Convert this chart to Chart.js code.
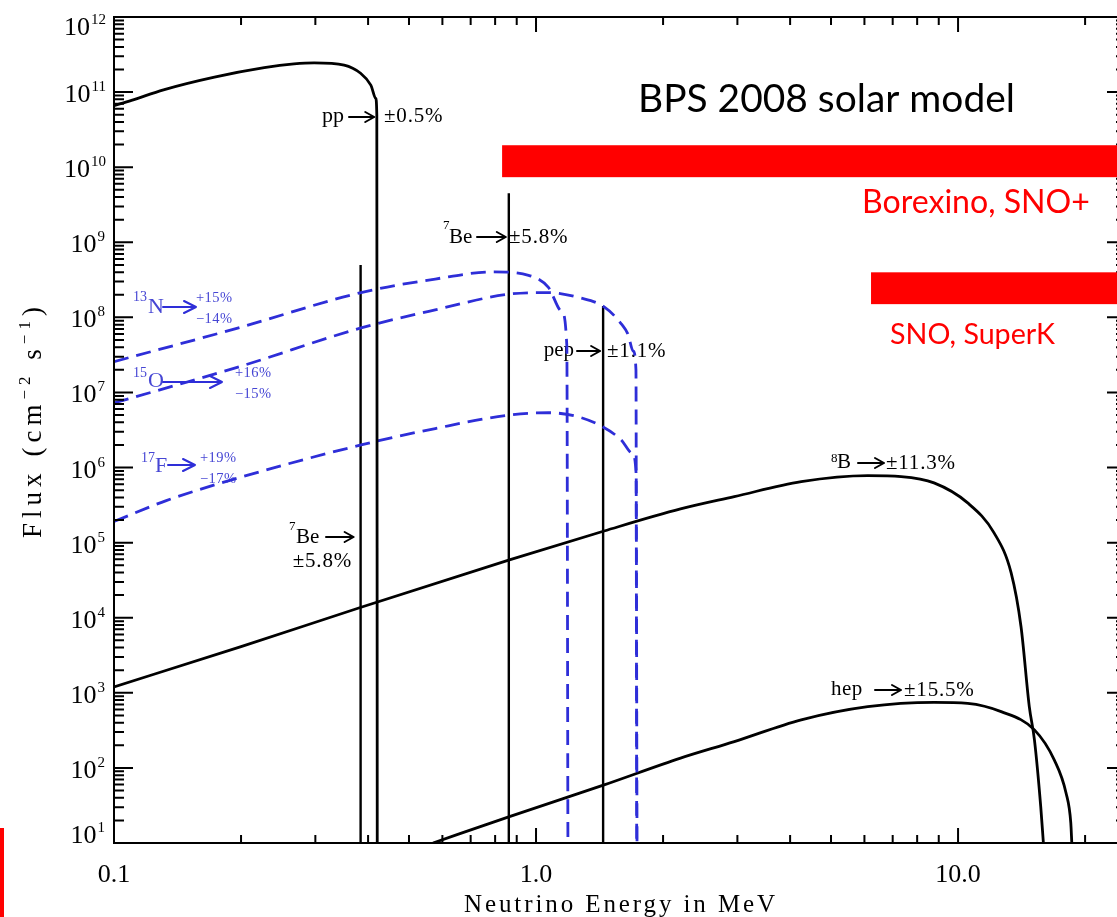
<!DOCTYPE html>
<html>
<head>
<meta charset="utf-8">
<title>Solar neutrino spectrum</title>
<script src="https://cdn.jsdelivr.net/npm/chart.js@4.4.0/dist/chart.umd.min.js"></script>
<style>
  html, body { margin: 0; padding: 0; background: #fff; overflow: hidden; }
  #wrap { width: 1117px; height: 917px; overflow: hidden; position: relative; }
  canvas { display: block; }
</style>
</head>
<body>
<div id="wrap"><canvas id="spectrum" width="1140" height="917"></canvas></div>
<script>
// ---- Spectra: neutrino energy (MeV) and flux (cm^-2 s^-1, per MeV for continua) ----
const ppEnergy = [0.1, 0.11, 0.131, 0.173, 0.227, 0.267, 0.298, 0.351, 0.384, 0.406, 0.417, 0.4195, 0.4205];
const ppFlux   = [6.61e10, 7.76e10, 1.07e11, 1.58e11, 2.11e11, 2.37e11, 2.45e11, 2.29e11, 1.78e11, 1.24e11, 8.26e10, 5.0e10, 10];

const n13Energy = [0.1, 0.2, 0.385, 0.577, 0.79, 0.96, 1.07, 1.15, 1.183, 1.19];
const n13Flux   = [2.57e7, 7.41e7, 2.14e8, 3.24e8, 4.03e8, 3.63e8, 2.51e8, 1.20e8, 4.17e7, 10];

const o15Energy = [0.1, 0.2, 0.385, 0.577, 0.865, 1.07, 1.27, 1.45, 1.6, 1.65, 1.70, 1.725, 1.732];
const o15Flux   = [7.24e6, 2.24e7, 7.24e7, 1.26e8, 2.04e8, 2.14e8, 1.82e8, 1.38e8, 7.94e7, 6.03e7, 3.55e7, 2.0e7, 10];

const f17Energy = [0.1, 0.133, 0.191, 0.385, 0.577, 0.865, 1.07, 1.25, 1.43, 1.59, 1.69, 1.726, 1.735];
const f17Flux   = [1.91e5, 3.63e5, 6.92e5, 2.0e6, 3.31e6, 5.01e6, 5.37e6, 4.79e6, 3.55e6, 2.34e6, 1.55e6, 8.51e5, 10];

const b8Energy = [0.1, 0.2, 0.385, 0.865, 1.45, 2.2, 2.95, 4.25, 6.11, 7.33, 8.77, 10.54, 12.17, 13.36, 14.1, 14.75, 15.17, 15.7, 15.93];
const b8Flux   = [1.20e3, 4.12e3, 1.38e4, 5.89e4, 1.43e5, 2.81e5, 4.10e5, 6.49e5, 7.80e5, 7.57e5, 6.24e5, 3.38e5, 1.35e5, 3.95e4, 7.59e3, 655, 236, 30.5, 10];

const hepEnergy = [0.57, 0.865, 1.45, 2.2, 2.95, 4.25, 6.11, 8.77, 10.54, 12.65, 15.17, 16.9, 18.03, 18.5, 18.6];
const hepFlux   = [10, 22.5, 59.4, 135, 224, 437, 655, 748, 724, 562, 321, 128, 46.0, 18.4, 10];

// Monoenergetic lines: 7Be (384 keV), 7Be (862 keV), pep
const lineEnergy = [0.384, 0.862, 1.442];
const lineFlux   = [5.0e8, 4.5e9, 1.42e8];

// Detector sensitivity bands: energy threshold and flux extent of each bar
const bandNames     = ['Borexino, SNO+', 'SNO, SuperK'];
const bandThreshold = [0.831, 6.22];
const bandFluxTop   = [1.96e10, 3.98e8];
const bandFluxBot   = [7.36e9, 1.50e8];

// Axes
const xMin = 0.1, xMax = 25;
const yMin = 10, yMax = 1e12;
const xTickValues = [0.1, 1, 10];
const xTickLabels = ['0.1', '1.0', '10.0'];
const yTickExponents = [1, 2, 3, 4, 5, 6, 7, 8, 9, 10, 11, 12];

const SERIF = "'Liberation Serif', 'DejaVu Serif', serif";
const SANS = "Lato, 'Open Sans', sans-serif";
const BLACK = '#000';
const BLUE = 'rgb(46,46,216)';
const BLUE_TEXT = 'rgb(70,70,212)';
const RED = 'rgb(255,0,0)';

const pts = (xs, ys) => xs.map((v, i) => ({ x: v, y: ys[i] }));

const datasets = [];
function curve(label, xs, ys, color, width, dash) {
  datasets.push({
    label, data: pts(xs, ys), borderColor: color, borderWidth: width,
    borderDash: dash || [], cubicInterpolationMode: 'monotone',
    pointRadius: 0, fill: false
  });
}
curve('pp', ppEnergy, ppFlux, BLACK, 2.8);
curve('13N', n13Energy, n13Flux, BLUE, 2.8, [15, 8]);
curve('15O', o15Energy, o15Flux, BLUE, 2.8, [15, 8]);
curve('17F', f17Energy, f17Flux, BLUE, 2.8, [15, 8]);
curve('8B', b8Energy, b8Flux, BLACK, 2.8);
curve('hep', hepEnergy, hepFlux, BLACK, 2.8);
lineEnergy.forEach((e, i) => {
  datasets.push({
    label: 'line' + i, data: [{ x: e, y: yMin }, { x: e, y: lineFlux[i] }],
    borderColor: BLACK, borderWidth: 2.4, pointRadius: 0, fill: false
  });
});

// ---- drawing helpers ----
function text(ctx, s, x, y, size, opt = {}) {
  ctx.font = (opt.weight ? opt.weight + ' ' : '') + size + 'px ' + (opt.family || SERIF);
  ctx.fillStyle = opt.color || BLACK;
  ctx.textAlign = opt.align || 'left';
  ctx.textBaseline = 'alphabetic';
  ctx.letterSpacing = (opt.ls || 0) + 'px';
  ctx.fillText(s, x, y);
  const w = ctx.measureText(s).width;
  ctx.letterSpacing = '0px';
  return w;
}
function arrow(ctx, x1, x2, y, color, head, half, lw) {
  ctx.save();
  ctx.strokeStyle = color; ctx.lineWidth = lw || 2; ctx.lineCap = 'round'; ctx.lineJoin = 'round';
  ctx.beginPath();
  ctx.moveTo(x1, y); ctx.lineTo(x2, y);
  ctx.moveTo(x2 - head, y - half); ctx.lineTo(x2, y); ctx.lineTo(x2 - head, y + half);
  ctx.stroke();
  ctx.restore();
}
function fitSize(ctx, s, family, target) {
  ctx.font = '100px ' + family;
  return 100 * target / ctx.measureText(s).width;
}

// Source labels with uncertainties (drawn beneath the curves)
const labelPlugin = {
  id: 'sourceLabels',
  beforeDatasetsDraw(chart) {
    const ctx = chart.ctx;
    const x = chart.scales.x;
    ctx.save();
    // pp
    text(ctx, 'pp', 344, 122, 22, { align: 'right' });
    arrow(ctx, 349, x.getPixelForValue(ppEnergy[ppEnergy.length - 1]) - 3, 117, BLACK, 9, 5, 2);
    text(ctx, '\u00b10.5%', 384, 122, 21, { ls: 0.8 });
    // 7Be 862 keV
    text(ctx, '7', 443, 229, 13);
    text(ctx, 'Be', 449, 243, 21);
    arrow(ctx, 477, x.getPixelForValue(lineEnergy[1]) - 3, 237, BLACK, 9, 5, 2);
    text(ctx, '\u00b15.8%', 509, 243, 21, { ls: 0.8 });
    // pep
    text(ctx, 'pep', 574, 356, 21, { align: 'right' });
    arrow(ctx, 577, x.getPixelForValue(lineEnergy[2]) - 3, 351, BLACK, 9, 5, 2);
    text(ctx, '\u00b11.1%', 607, 357, 21, { ls: 0.8 });
    // 7Be 384 keV
    text(ctx, '7', 289, 530, 13);
    text(ctx, 'Be', 296, 543, 21);
    arrow(ctx, 326, x.getPixelForValue(lineEnergy[0]) - 7, 537, BLACK, 9, 5, 2);
    text(ctx, '\u00b15.8%', 352, 567, 21, { align: 'right', ls: 0.8 });
    // 8B
    text(ctx, '8', 831, 462, 13);
    text(ctx, 'B', 837, 468, 21);
    arrow(ctx, 858, 884, 463, BLACK, 9, 5, 2);
    text(ctx, '\u00b111.3%', 886, 469, 21, { ls: 0.8 });
    // hep
    text(ctx, 'hep', 831, 695, 21, { ls: 0.5 });
    arrow(ctx, 875, 901, 690, BLACK, 9, 5, 2);
    text(ctx, '\u00b115.5%', 904, 696, 21, { ls: 0.8 });

    // CNO labels
    const b = { color: BLUE_TEXT };
    const bs = { color: BLUE_TEXT, ls: 0.4 };
    text(ctx, '13', 133, 301, 14, b);
    text(ctx, 'N', 148, 313, 22, b);
    arrow(ctx, 163, 196, 307, BLUE, 12, 6, 2);
    text(ctx, '+15%', 196, 302, 14.5, bs);
    text(ctx, '\u221214%', 196, 323, 14.5, bs);

    text(ctx, '15', 133, 377, 14, b);
    text(ctx, 'O', 148, 387, 22, b);
    arrow(ctx, 163, 222, 382, BLUE, 12, 6, 2);
    text(ctx, '+16%', 235, 377, 14.5, bs);
    text(ctx, '\u221215%', 235, 398, 14.5, bs);

    text(ctx, '17', 141, 462, 14, b);
    text(ctx, 'F', 155, 472, 22, b);
    arrow(ctx, 168, 195, 465, BLUE, 12, 6, 2);
    text(ctx, '+19%', 200, 462, 14.5, bs);
    text(ctx, '\u221217%', 200, 483, 14.5, bs);
    ctx.restore();
  }
};

// Box frame, inward ticks and axis labels
const framePlugin = {
  id: 'frame',
  afterDatasetsDraw(chart) {
    const { ctx, chartArea: a, scales: { x, y } } = chart;
    ctx.save();
    ctx.strokeStyle = BLACK; ctx.lineWidth = 2; ctx.lineCap = 'butt';
    ctx.strokeRect(a.left, a.top, a.right - a.left, a.bottom - a.top);
    ctx.beginPath();
    for (let e = 1; e <= 12; e++) {
      for (let m = 1; m <= 9; m++) {
        const v = m * Math.pow(10, e);
        if (v > y.max * 1.0001) continue;
        const p = y.getPixelForValue(v);
        const len = m === 1 ? 19 : 10;
        ctx.moveTo(a.left, p); ctx.lineTo(a.left + len, p);
        ctx.moveTo(a.right, p); ctx.lineTo(a.right - len, p);
      }
    }
    for (let e = -1; e <= 1; e++) {
      for (let m = 1; m <= 9; m++) {
        const v = m * Math.pow(10, e);
        if (v < x.min * 0.9999 || v > x.max * 1.0001) continue;
        const p = x.getPixelForValue(v);
        const len = m === 1 ? 15 : 8;
        ctx.moveTo(p, a.bottom); ctx.lineTo(p, a.bottom - len);
        ctx.moveTo(p, a.top); ctx.lineTo(p, a.top + len);
      }
    }
    ctx.stroke();

    // y tick labels: 10 with superscript exponent
    yTickExponents.forEach(e => {
      const p = y.getPixelForValue(Math.pow(10, e));
      const base = Math.min(Math.max(p + 10, 35), 843);
      const right = e >= 10 ? 106 : 105;
      ctx.font = '15px ' + SERIF;
      const sw = ctx.measureText(String(e)).width;
      text(ctx, String(e), right, base - 11, 15, { align: 'right' });
      text(ctx, '10', right - sw - 1, base, 26, { align: 'right' });
    });
    // x tick labels
    xTickValues.forEach((v, i) => {
      text(ctx, xTickLabels[i], x.getPixelForValue(v), 882, 26, { align: 'center' });
    });
    // x title
    text(ctx, 'Neutrino Energy in MeV', 621, 912, 25, { align: 'center', ls: 2.9 });
    // y title (rotated), spread over a fixed length
    ctx.save();
    ctx.translate(41, 420);
    ctx.rotate(-Math.PI / 2);
    const runs = [['Flux (cm', 27, 0], ['\u22122', 17, -11], [' s', 27, 0], ['\u22121', 17, -11], [')', 27, 0]];
    let natural = 0, chars = 0;
    runs.forEach(r => { ctx.font = r[1] + 'px ' + SERIF; natural += ctx.measureText(r[0]).width; chars += r[0].length; });
    const ls = Math.max(0, (236 - natural) / chars);
    let cx = -118;
    runs.forEach(r => { cx += text(ctx, r[0], cx, r[2], r[1], { ls }); });
    ctx.restore();
    ctx.restore();
  },
  afterDraw(chart) {
    const { ctx, scales: { x, y } } = chart;
    ctx.save();
    // detector bands
    bandNames.forEach((n, i) => {
      const x0 = x.getPixelForValue(bandThreshold[i]);
      const y0 = y.getPixelForValue(bandFluxTop[i]);
      const y1 = y.getPixelForValue(bandFluxBot[i]);
      ctx.fillStyle = RED;
      ctx.fillRect(x0, y0, chart.width - x0, y1 - y0);
    });
    // overlay texts
    let s = fitSize(ctx, 'BPS 2008 solar model', SANS, 377);
    text(ctx, 'BPS 2008 solar model', 638, 112, s, { family: SANS });
    s = fitSize(ctx, bandNames[0], SANS, 228);
    text(ctx, bandNames[0], 862, 213, s, { family: SANS, color: RED });
    s = fitSize(ctx, bandNames[1], SANS, 165);
    text(ctx, bandNames[1], 890, 344, s, { family: SANS, color: RED });
    // edge marker
    ctx.fillStyle = RED;
    ctx.fillRect(0, 828, 4, 89);
    ctx.restore();
  }
};

new Chart(document.getElementById('spectrum'), {
  type: 'line',
  data: { datasets },
  options: {
    responsive: false,
    animation: false,
    devicePixelRatio: 1,
    layout: { padding: { left: 114, right: 14, top: 17, bottom: 74 } },
    plugins: { legend: { display: false }, tooltip: { enabled: false } },
    scales: {
      x: { type: 'logarithmic', min: xMin, max: xMax, display: false },
      y: { type: 'logarithmic', min: yMin, max: yMax, display: false }
    }
  },
  plugins: [labelPlugin, framePlugin]
});
</script>
</body>
</html>
